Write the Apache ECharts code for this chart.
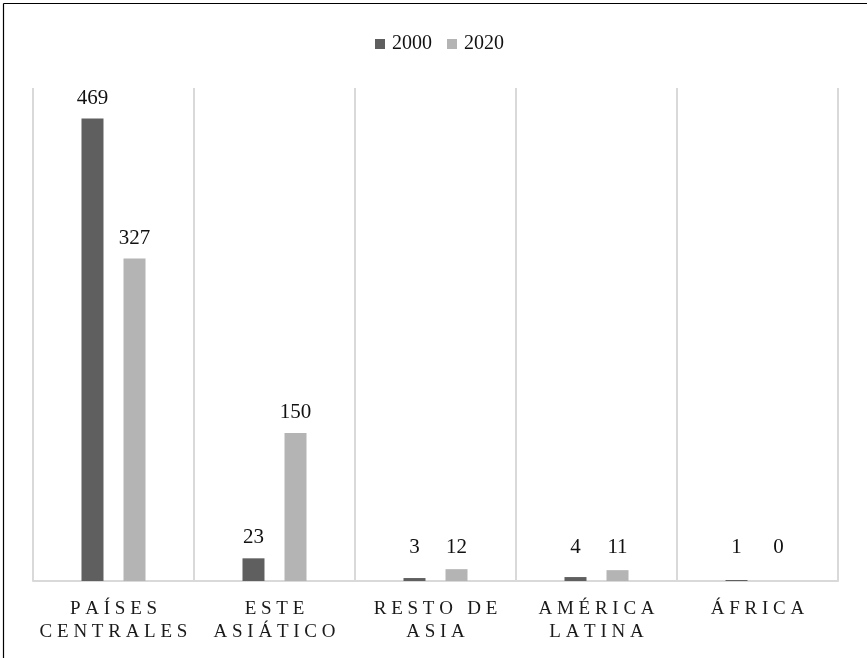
<!DOCTYPE html>
<html>
<head>
<meta charset="utf-8">
<script src="https://cdn.jsdelivr.net/npm/echarts@6/dist/echarts.min.js"></script>
<style>
  html, body { margin: 0; padding: 0; background: #fff; }
  #chart { width: 867px; height: 658px; }
</style>
</head>
<body>
<div id="chart"></div>
<script>
// Regions (two-line axis labels) and number of companies per region
const categories = ['PAÍSES\nCENTRALES', 'ESTE\nASIÁTICO', 'RESTO DE\nASIA', 'AMÉRICA\nLATINA', 'ÁFRICA'];
const seriesNames = ['2000', '2020'];
const values2000 = [469, 23, 3, 4, 1];
const values2020 = [327, 150, 12, 11, 0];

const FONT = '"Liberation Serif", "Times New Roman", serif';
const GAP = '\u2005'; // four-per-em space used as letter spacing

// spread capital letters apart, line by line
function spaced(text) {
  return text.split('\n').map(line => line.split('').join(GAP)).join('\n');
}

const chart = echarts.init(document.getElementById('chart'));

const labelCfg = {
  show: true,
  position: 'top',
  distance: 10,
  color: '#111',
  fontFamily: FONT,
  fontSize: 21
};

// keep labels of very short bars clear of the baseline
function liftLabel(params) {
  return { dy: Math.min(0, params.rect.height - 13) };
}

chart.setOption({
  animation: false,
  backgroundColor: '#fff',
  textStyle: { fontFamily: FONT },
  legend: {
    data: seriesNames,
    top: 29,
    left: 370,
    itemWidth: 10,
    itemHeight: 10,
    itemGap: 15,
    icon: 'rect',
    textStyle: { fontFamily: FONT, fontSize: 20, color: '#111', padding: [0, 0, 0, 2] }
  },
  grid: { left: 33, right: 29, top: 88, bottom: 77 },
  xAxis: {
    type: 'category',
    data: categories,
    axisLine: { show: true, lineStyle: { color: '#d9d9d9', width: 2 } },
    axisTick: { show: false },
    splitLine: { show: true, lineStyle: { color: '#d9d9d9', width: 2 } },
    axisLabel: {
      interval: 0,
      margin: 17,
      fontFamily: FONT,
      fontSize: 19,
      lineHeight: 23,
      color: '#1a1a1a',
      formatter: spaced
    }
  },
  yAxis: {
    type: 'value',
    min: 0,
    max: 500,
    show: false,
    splitLine: { show: false }
  },
  series: [
    {
      name: seriesNames[0],
      type: 'bar',
      data: values2000,
      barWidth: 22,
      barGap: '91%',
      itemStyle: { color: '#5f5f5f' },
      label: labelCfg,
      labelLayout: liftLabel
    },
    {
      name: seriesNames[1],
      type: 'bar',
      data: values2020,
      barWidth: 22,
      itemStyle: { color: '#b4b4b4' },
      label: labelCfg,
      labelLayout: liftLabel
    }
  ],
  graphic: [
    { type: 'line', shape: { x1: 3.5, y1: 3.5, x2: 867, y2: 3.5 }, style: { stroke: '#000', lineWidth: 1.2 } },
    { type: 'line', shape: { x1: 3.5, y1: 3.5, x2: 3.5, y2: 658 }, style: { stroke: '#000', lineWidth: 1.2 } }
  ]
});
</script>
</body>
</html>
